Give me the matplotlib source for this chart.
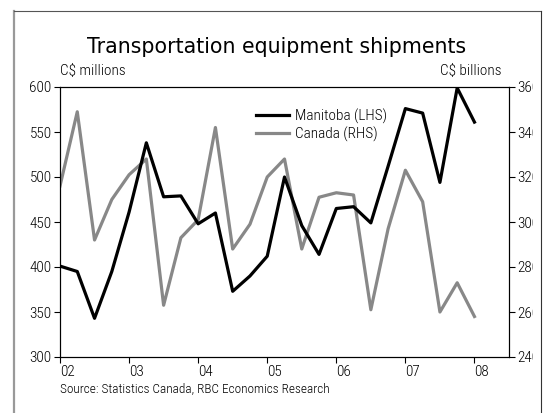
import matplotlib
matplotlib.use('Agg')
import matplotlib.pyplot as plt
from matplotlib.lines import Line2D
from matplotlib.transforms import Bbox, TransformedBbox

# Quarterly, 2002Q1 .. 2008Q1
quarters = [2002 + i * 0.25 for i in range(25)]
manitoba = [401, 395, 343, 395, 461, 538, 478, 479, 448, 460,
            373, 390, 412, 500, 446, 414, 465, 467, 449, 512,
            576, 571, 494, 599, 561]
canada = [316, 349, 292, 310, 321, 328, 263, 293, 301, 342,
          288, 299, 320, 328, 288, 311, 313, 312, 261, 297,
          323, 309, 260, 273, 258]
year_ticks = [2002, 2003, 2004, 2005, 2006, 2007, 2008]
year_labels = ['02', '03', '04', '05', '06', '07', '08']
left_ticks = [300, 350, 400, 450, 500, 550, 600]
right_ticks = [240, 260, 280, 300, 320, 340, 360]

narrow = dict(fontfamily='Roboto Condensed', fontweight='light')

fig = plt.figure(figsize=(5.43, 4.13), dpi=100)
ax = fig.add_axes([60 / 543, 1 - 357 / 413, 449 / 543, 270 / 413])
ax2 = ax.twinx()

ax.plot(quarters, manitoba, color='black', lw=2.3, label='Manitoba (LHS)', zorder=3)
ax2.plot(quarters, canada, color='#888888', lw=2.3, label='Canada (RHS)')
ax.set_zorder(ax2.get_zorder() + 1)
ax.patch.set_visible(False)

ax.set_xlim(2002, 2008.5)
ax.set_ylim(300, 600)
ax2.set_ylim(240, 360)
ax.set_xticks(year_ticks)
ax.set_xticklabels(year_labels, fontsize=11, ha='left', **narrow)
ax.set_yticks(left_ticks)
ax.set_yticklabels([str(v) for v in left_ticks], fontsize=11, **narrow)
ax2.set_yticks(right_ticks)
ax2.set_yticklabels([str(v) for v in right_ticks], fontsize=11, **narrow)
ax.tick_params(axis='both', direction='out', length=4, width=0.8, pad=2)
ax2.tick_params(axis='y', direction='out', length=4, width=0.8, pad=2)
for s in list(ax.spines.values()) + list(ax2.spines.values()):
    s.set_linewidth(0.8)

# right tick labels are cut off by the panel edge
clip = TransformedBbox(Bbox([[0, 0], [533 / 543, 1]]), fig.transFigure)
for lab in ax2.get_yticklabels():
    lab.set_clip_on(True)
    lab.set_clip_box(clip)

h1, l1 = ax.get_legend_handles_labels()
h2, l2 = ax2.get_legend_handles_labels()
ax.legend(h1 + h2, l1 + l2, loc='upper left', bbox_to_anchor=(0.405, 0.97),
          frameon=False, handlelength=2.2, handletextpad=0.4, labelspacing=0.15,
          prop={'family': 'Roboto Condensed', 'weight': 'light', 'size': 11})

fig.text(277 / 543, 1 - 47 / 413, 'Transportation equipment shipments',
         ha='center', va='center', fontsize=14.8)
fig.text(60 / 543, 1 - 71 / 413, 'C$ millions', ha='left', va='center',
         fontsize=11, **narrow)
fig.text(501 / 543, 1 - 71 / 413, 'C$ billions', ha='right', va='center',
         fontsize=11, **narrow)
fig.text(60 / 543, 1 - 389 / 413, 'Source: Statistics Canada, RBC Economics Research',
         ha='left', va='center', fontsize=9.5, **narrow)

# panel frame
fx0, fx1, fy = 14 / 543, 541 / 543, 1 - 11 / 413
fig.add_artist(Line2D([fx0, fx0], [0, fy], transform=fig.transFigure, color='#999999', lw=1.6))
fig.add_artist(Line2D([fx0, fx1], [fy, fy], transform=fig.transFigure, color='#555555', lw=0.8))
fig.add_artist(Line2D([fx1, fx1], [0, fy], transform=fig.transFigure, color='#333333', lw=0.8))

fig.savefig('out.png', dpi=100)
